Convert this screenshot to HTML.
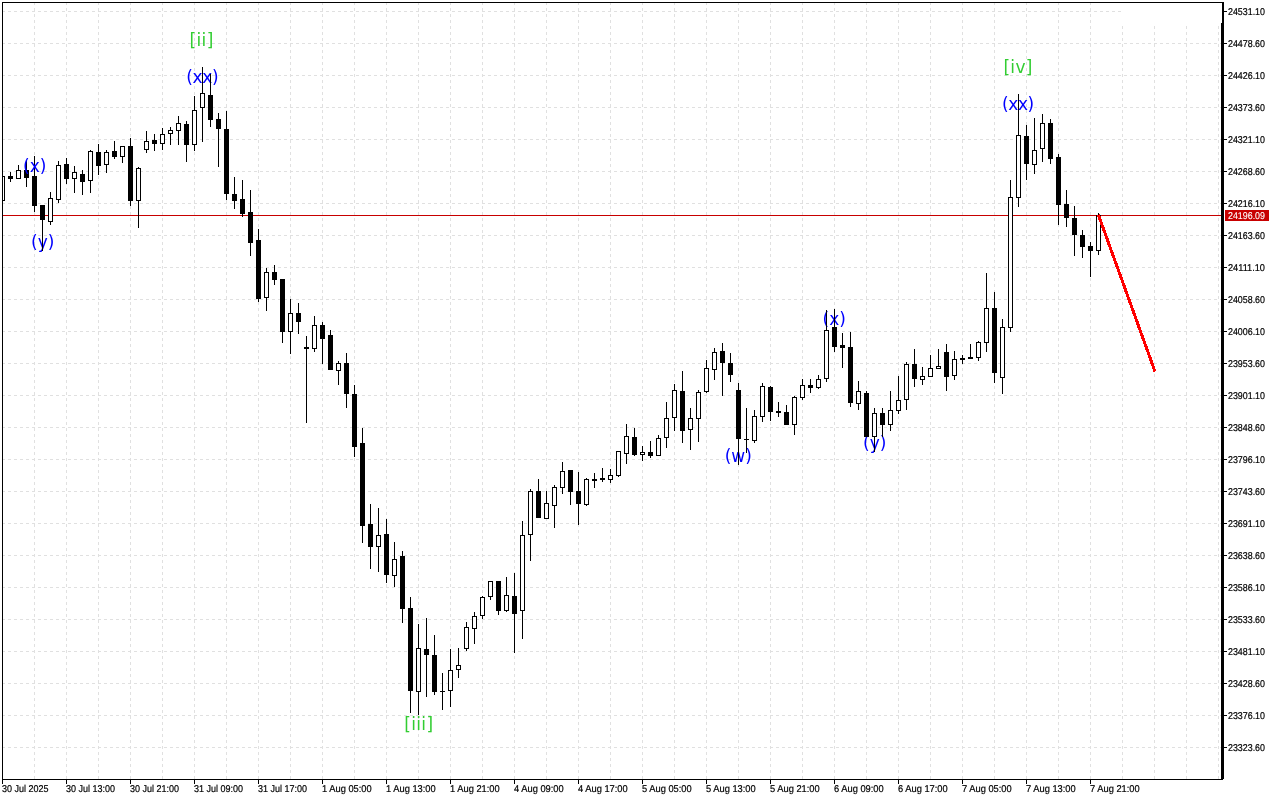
<!DOCTYPE html>
<html lang="en"><head><meta charset="utf-8"><title>Chart</title>
<style>html,body{margin:0;padding:0;background:#fff;overflow:hidden}svg{display:block}text{font-family:"Liberation Sans",sans-serif}.ax{font-size:9.9px;text-rendering:geometricPrecision;fill:#000;stroke:#000;stroke-width:0.2px}.wv text{font-family:"DejaVu Sans","Liberation Sans",sans-serif;font-size:17px}</style></head><body>
<svg width="1280" height="800" viewBox="0 0 1280 800">
<rect width="1280" height="800" fill="#fff"/>
<g shape-rendering="crispEdges" stroke="#e0e0e0" stroke-width="1" stroke-dasharray="3 3" fill="none">
<path d="M2 11.5H1221M2 43.5H1221M2 75.5H1221M2 107.5H1221M2 139.5H1221M2 171.5H1221M2 203.5H1221M2 235.5H1221M2 267.5H1221M2 299.5H1221M2 331.5H1221M2 363.5H1221M2 395.5H1221M2 427.5H1221M2 459.5H1221M2 491.5H1221M2 523.5H1221M2 555.5H1221M2 587.5H1221M2 619.5H1221M2 651.5H1221M2 683.5H1221M2 715.5H1221M2 747.5H1221"/>
<path d="M34.5 2V779M66.5 2V779M98.5 2V779M130.5 2V779M162.5 2V779M194.5 2V779M226.5 2V779M258.5 2V779M290.5 2V779M322.5 2V779M354.5 2V779M386.5 2V779M418.5 2V779M450.5 2V779M482.5 2V779M514.5 2V779M546.5 2V779M578.5 2V779M610.5 2V779M642.5 2V779M674.5 2V779M706.5 2V779M738.5 2V779M770.5 2V779M802.5 2V779M834.5 2V779M866.5 2V779M898.5 2V779M930.5 2V779M962.5 2V779M994.5 2V779M1026.5 2V779M1058.5 2V779M1090.5 2V779M1122.5 2V779M1154.5 2V779M1186.5 2V779M1218.5 2V779"/>
</g>
<rect x="1121" y="3" width="100" height="20" fill="#fff"/>
<rect x="3" y="215" width="1219" height="1" fill="#c80000" shape-rendering="crispEdges"/>
<g class="wv">
<text x="31.0" y="247.8" fill="#0000ff">(y)</text>
<text x="189.5" y="46.1" letter-spacing="0.35" fill="#32cd32">[ii]</text>
<text x="186.2" y="82.8" letter-spacing="-0.35" fill="#0000ff">(xx)</text>
<text x="404.2" y="730.1" letter-spacing="0.35" fill="#32cd32">[iii]</text>
<text x="724.7" y="461.8" fill="#0000ff">(w)</text>
<text x="822.5" y="324.8" fill="#0000ff">(x)</text>
<text x="863.0" y="448.8" fill="#0000ff">(y)</text>
<text x="1003.4" y="72.8" letter-spacing="0.35" fill="#32cd32">[iv]</text>
<text x="1001.9" y="109.8" letter-spacing="-0.35" fill="#0000ff">(xx)</text>
</g>
<g shape-rendering="crispEdges">
<path fill="#000" d="M0 176h5v25h-5zM10 172h1v10h-1zM8 176h5v3h-5zM18 165h1v14h-1zM16 170h5v9h-5zM26 160h1v27h-1zM24 170h5v8h-5zM34 156h1v56h-1zM32 176h5v30h-5zM42 205h1v46h-1zM40 205h5v15h-5zM50 192h1v33h-1zM48 198h5v24h-5zM58 161h1v42h-1zM56 165h5v35h-5zM66 158h1v26h-1zM64 164h5v15h-5zM74 166h1v27h-1zM72 172h5v7h-5zM82 170h1v25h-1zM80 174h5v8h-5zM90 150h1v43h-1zM88 151h5v30h-5zM98 144h1v31h-1zM96 152h5v14h-5zM106 150h1v23h-1zM104 152h5v13h-5zM114 141h1v18h-1zM112 151h5v6h-5zM122 146h1v17h-1zM120 146h5v11h-5zM130 138h1v68h-1zM128 146h5v55h-5zM138 167h1v61h-1zM136 168h5v33h-5zM146 131h1v22h-1zM144 141h5v9h-5zM154 134h1v17h-1zM152 140h5v4h-5zM162 128h1v22h-1zM160 134h5v10h-5zM170 127h1v18h-1zM168 130h5v4h-5zM178 116h1v29h-1zM176 123h5v8h-5zM186 121h1v41h-1zM184 124h5v21h-5zM194 96h1v55h-1zM192 110h5v35h-5zM202 67h1v75h-1zM200 93h5v15h-5zM210 74h1v53h-1zM208 95h5v25h-5zM218 113h1v54h-1zM216 119h5v10h-5zM226 111h1v89h-1zM224 129h5v65h-5zM234 177h1v32h-1zM232 194h5v7h-5zM242 180h1v37h-1zM240 199h5v15h-5zM250 190h1v66h-1zM248 212h5v31h-5zM258 229h1v73h-1zM256 240h5v59h-5zM266 268h1v43h-1zM264 272h5v26h-5zM274 265h1v20h-1zM272 272h5v8h-5zM282 279h1v64h-1zM280 279h5v53h-5zM290 299h1v55h-1zM288 313h5v19h-5zM298 303h1v31h-1zM296 313h5v9h-5zM306 336h1v87h-1zM304 347h5v2h-5zM314 316h1v36h-1zM312 325h5v24h-5zM322 322h1v42h-1zM320 325h5v14h-5zM330 330h1v40h-1zM328 335h5v35h-5zM338 361h1v24h-1zM336 363h5v8h-5zM346 353h1v55h-1zM344 363h5v31h-5zM354 385h1v72h-1zM352 394h5v53h-5zM362 428h1v115h-1zM360 443h5v83h-5zM370 504h1v65h-1zM368 524h5v23h-5zM378 508h1v64h-1zM376 535h5v12h-5zM386 519h1v64h-1zM384 534h5v41h-5zM394 542h1v45h-1zM392 559h5v17h-5zM402 551h1v72h-1zM400 556h5v53h-5zM410 597h1v116h-1zM408 608h5v83h-5zM418 624h1v91h-1zM416 648h5v44h-5zM426 618h1v79h-1zM424 649h5v6h-5zM434 635h1v60h-1zM432 655h5v37h-5zM442 673h1v37h-1zM440 691h5v1h-5zM450 649h1v58h-1zM448 670h5v21h-5zM458 648h1v30h-1zM456 665h5v5h-5zM466 622h1v29h-1zM464 627h5v22h-5zM474 612h1v32h-1zM472 616h5v13h-5zM482 596h1v23h-1zM480 597h5v19h-5zM490 581h1v19h-1zM488 581h5v16h-5zM498 581h1v34h-1zM496 581h5v30h-5zM506 577h1v35h-1zM504 595h5v16h-5zM514 573h1v80h-1zM512 596h5v18h-5zM522 521h1v118h-1zM520 535h5v76h-5zM530 489h1v72h-1zM528 491h5v44h-5zM538 479h1v39h-1zM536 491h5v27h-5zM546 491h1v28h-1zM544 503h5v16h-5zM554 485h1v43h-1zM552 487h5v19h-5zM562 462h1v32h-1zM560 471h5v17h-5zM570 470h1v35h-1zM568 470h5v22h-5zM578 472h1v53h-1zM576 491h5v13h-5zM586 478h1v28h-1zM584 479h5v26h-5zM594 473h1v15h-1zM592 479h5v2h-5zM602 468h1v14h-1zM600 478h5v2h-5zM610 469h1v14h-1zM608 475h5v5h-5zM618 451h1v26h-1zM616 451h5v25h-5zM626 424h1v40h-1zM624 436h5v18h-5zM634 428h1v28h-1zM632 437h5v18h-5zM642 446h1v15h-1zM640 452h5v3h-5zM650 441h1v17h-1zM648 452h5v4h-5zM658 435h1v21h-1zM656 438h5v18h-5zM666 402h1v46h-1zM664 418h5v20h-5zM674 384h1v47h-1zM672 390h5v28h-5zM682 371h1v72h-1zM680 391h5v40h-5zM690 408h1v42h-1zM688 418h5v12h-5zM698 390h1v52h-1zM696 392h5v27h-5zM706 360h1v33h-1zM704 368h5v24h-5zM714 348h1v32h-1zM712 352h5v18h-5zM722 343h1v53h-1zM720 351h5v12h-5zM730 353h1v29h-1zM728 363h5v12h-5zM738 383h1v82h-1zM736 390h5v49h-5zM746 408h1v45h-1zM744 439h5v1h-5zM754 410h1v33h-1zM752 416h5v25h-5zM762 383h1v39h-1zM760 386h5v31h-5zM770 386h1v35h-1zM768 387h5v25h-5zM778 402h1v15h-1zM776 411h5v2h-5zM786 405h1v20h-1zM784 412h5v13h-5zM794 396h1v39h-1zM792 397h5v28h-5zM802 379h1v21h-1zM800 385h5v13h-5zM810 379h1v14h-1zM808 385h5v3h-5zM818 375h1v14h-1zM816 379h5v9h-5zM826 310h1v72h-1zM824 330h5v49h-5zM834 309h1v43h-1zM832 327h5v20h-5zM842 333h1v35h-1zM840 345h5v3h-5zM850 332h1v75h-1zM848 347h5v56h-5zM858 381h1v29h-1zM856 391h5v13h-5zM866 391h1v46h-1zM864 393h5v44h-5zM874 408h1v44h-1zM872 413h5v24h-5zM882 408h1v29h-1zM880 413h5v12h-5zM890 391h1v40h-1zM888 410h5v15h-5zM898 376h1v38h-1zM896 400h5v11h-5zM906 362h1v48h-1zM904 364h5v36h-5zM914 349h1v38h-1zM912 364h5v15h-5zM922 367h1v18h-1zM920 376h5v4h-5zM930 355h1v22h-1zM928 368h5v9h-5zM938 349h1v20h-1zM936 366h5v3h-5zM946 344h1v47h-1zM944 352h5v25h-5zM954 351h1v29h-1zM952 359h5v17h-5zM962 355h1v9h-1zM960 358h5v2h-5zM970 344h1v15h-1zM968 357h5v2h-5zM978 341h1v20h-1zM976 342h5v16h-5zM986 273h1v79h-1zM984 308h5v35h-5zM994 292h1v91h-1zM992 308h5v65h-5zM1002 319h1v75h-1zM1000 327h5v51h-5zM1010 180h1v152h-1zM1008 197h5v131h-5zM1018 94h1v113h-1zM1016 135h5v63h-5zM1026 125h1v55h-1zM1024 136h5v28h-5zM1034 118h1v56h-1zM1032 150h5v15h-5zM1042 114h1v48h-1zM1040 123h5v26h-5zM1050 119h1v45h-1zM1048 123h5v36h-5zM1058 154h1v71h-1zM1056 157h5v48h-5zM1066 190h1v37h-1zM1064 204h5v14h-5zM1074 206h1v50h-1zM1072 218h5v17h-5zM1082 230h1v28h-1zM1080 235h5v12h-5zM1090 242h1v35h-1zM1088 246h5v5h-5zM1098 213h1v42h-1zM1096 215h5v36h-5z"/>
<path fill="#fff" d="M1 177h3v23h-3zM17 171h3v7h-3zM49 199h3v22h-3zM57 166h3v33h-3zM73 173h3v5h-3zM89 152h3v28h-3zM105 153h3v11h-3zM121 147h3v9h-3zM137 169h3v31h-3zM145 142h3v7h-3zM161 135h3v8h-3zM169 131h3v2h-3zM177 124h3v6h-3zM193 111h3v33h-3zM201 94h3v13h-3zM265 273h3v24h-3zM289 314h3v17h-3zM313 326h3v22h-3zM337 364h3v6h-3zM377 536h3v10h-3zM393 560h3v15h-3zM417 649h3v42h-3zM449 671h3v19h-3zM457 666h3v3h-3zM465 628h3v20h-3zM473 617h3v11h-3zM481 598h3v17h-3zM489 582h3v14h-3zM505 596h3v14h-3zM521 536h3v74h-3zM529 492h3v42h-3zM545 504h3v14h-3zM553 488h3v17h-3zM561 472h3v15h-3zM585 480h3v24h-3zM609 476h3v3h-3zM617 452h3v23h-3zM625 437h3v16h-3zM641 453h3v1h-3zM657 439h3v16h-3zM665 419h3v18h-3zM673 391h3v26h-3zM689 419h3v10h-3zM697 393h3v25h-3zM705 369h3v22h-3zM713 353h3v16h-3zM753 417h3v23h-3zM761 387h3v29h-3zM793 398h3v26h-3zM801 386h3v11h-3zM817 380h3v7h-3zM825 331h3v47h-3zM857 392h3v11h-3zM873 414h3v22h-3zM889 411h3v13h-3zM897 401h3v9h-3zM905 365h3v34h-3zM921 377h3v2h-3zM929 369h3v7h-3zM937 367h3v1h-3zM953 360h3v15h-3zM977 343h3v14h-3zM985 309h3v33h-3zM1001 328h3v49h-3zM1009 198h3v129h-3zM1017 136h3v61h-3zM1033 151h3v13h-3zM1041 124h3v24h-3zM1097 216h3v34h-3z"/>
</g>
<line x1="1098.3" y1="214.6" x2="1155" y2="371.5" stroke="#ff0000" stroke-width="3" shape-rendering="crispEdges"/>
<g shape-rendering="crispEdges" fill="#000">
<rect x="0" y="0" width="2" height="800" fill="#fff"/>
<rect x="2" y="2" width="1222" height="1"/>
<rect x="2" y="2" width="1" height="782"/>
<rect x="2" y="779" width="1221" height="1"/>
<rect x="1222" y="2" width="2" height="777"/>
<rect x="1221" y="23" width="1" height="756"/>
<path d="M1224 11h3v1h-3zM1224 43h3v1h-3zM1224 75h3v1h-3zM1224 107h3v1h-3zM1224 139h3v1h-3zM1224 171h3v1h-3zM1224 203h3v1h-3zM1224 235h3v1h-3zM1224 267h3v1h-3zM1224 299h3v1h-3zM1224 331h3v1h-3zM1224 363h3v1h-3zM1224 395h3v1h-3zM1224 427h3v1h-3zM1224 459h3v1h-3zM1224 491h3v1h-3zM1224 523h3v1h-3zM1224 555h3v1h-3zM1224 587h3v1h-3zM1224 619h3v1h-3zM1224 651h3v1h-3zM1224 683h3v1h-3zM1224 715h3v1h-3zM1224 747h3v1h-3zM66 780h1v4h-1zM130 780h1v4h-1zM194 780h1v4h-1zM258 780h1v4h-1zM322 780h1v4h-1zM386 780h1v4h-1zM450 780h1v4h-1zM514 780h1v4h-1zM578 780h1v4h-1zM642 780h1v4h-1zM706 780h1v4h-1zM770 780h1v4h-1zM834 780h1v4h-1zM898 780h1v4h-1zM962 780h1v4h-1zM1026 780h1v4h-1zM1090 780h1v4h-1z"/>
</g>
<g class="ax">
<text x="1228" y="14.8" textLength="37" lengthAdjust="spacingAndGlyphs">24531.10</text>
<text x="1228" y="46.8" textLength="37" lengthAdjust="spacingAndGlyphs">24478.60</text>
<text x="1228" y="78.8" textLength="37" lengthAdjust="spacingAndGlyphs">24426.10</text>
<text x="1228" y="110.8" textLength="37" lengthAdjust="spacingAndGlyphs">24373.60</text>
<text x="1228" y="142.8" textLength="37" lengthAdjust="spacingAndGlyphs">24321.10</text>
<text x="1228" y="174.8" textLength="37" lengthAdjust="spacingAndGlyphs">24268.60</text>
<text x="1228" y="206.8" textLength="37" lengthAdjust="spacingAndGlyphs">24216.10</text>
<text x="1228" y="238.8" textLength="37" lengthAdjust="spacingAndGlyphs">24163.60</text>
<text x="1228" y="270.8" textLength="37" lengthAdjust="spacingAndGlyphs">24111.10</text>
<text x="1228" y="302.8" textLength="37" lengthAdjust="spacingAndGlyphs">24058.60</text>
<text x="1228" y="334.8" textLength="37" lengthAdjust="spacingAndGlyphs">24006.10</text>
<text x="1228" y="366.8" textLength="37" lengthAdjust="spacingAndGlyphs">23953.60</text>
<text x="1228" y="398.8" textLength="37" lengthAdjust="spacingAndGlyphs">23901.10</text>
<text x="1228" y="430.8" textLength="37" lengthAdjust="spacingAndGlyphs">23848.60</text>
<text x="1228" y="462.8" textLength="37" lengthAdjust="spacingAndGlyphs">23796.10</text>
<text x="1228" y="494.8" textLength="37" lengthAdjust="spacingAndGlyphs">23743.60</text>
<text x="1228" y="526.8" textLength="37" lengthAdjust="spacingAndGlyphs">23691.10</text>
<text x="1228" y="558.8" textLength="37" lengthAdjust="spacingAndGlyphs">23638.60</text>
<text x="1228" y="590.8" textLength="37" lengthAdjust="spacingAndGlyphs">23586.10</text>
<text x="1228" y="622.8" textLength="37" lengthAdjust="spacingAndGlyphs">23533.60</text>
<text x="1228" y="654.8" textLength="37" lengthAdjust="spacingAndGlyphs">23481.10</text>
<text x="1228" y="686.8" textLength="37" lengthAdjust="spacingAndGlyphs">23428.60</text>
<text x="1228" y="718.8" textLength="37" lengthAdjust="spacingAndGlyphs">23376.10</text>
<text x="1228" y="750.8" textLength="37" lengthAdjust="spacingAndGlyphs">23323.60</text>
</g>
<rect x="1225" y="210" width="44" height="11" fill="#c80000" shape-rendering="crispEdges"/>
<text class="ax" x="1228" y="218.8" textLength="37" lengthAdjust="spacingAndGlyphs" style="fill:#fff;stroke:#fff;stroke-width:0.1px">24196.09</text>
<g class="ax">
<text x="2" y="791.8" textLength="46.5" lengthAdjust="spacingAndGlyphs">30 Jul 2025</text>
<text x="66" y="791.8" textLength="49.0" lengthAdjust="spacingAndGlyphs">30 Jul 13:00</text>
<text x="130" y="791.8" textLength="49.0" lengthAdjust="spacingAndGlyphs">30 Jul 21:00</text>
<text x="194" y="791.8" textLength="49.0" lengthAdjust="spacingAndGlyphs">31 Jul 09:00</text>
<text x="258" y="791.8" textLength="49.0" lengthAdjust="spacingAndGlyphs">31 Jul 17:00</text>
<text x="322" y="791.8" textLength="49.7" lengthAdjust="spacingAndGlyphs">1 Aug 05:00</text>
<text x="386" y="791.8" textLength="49.7" lengthAdjust="spacingAndGlyphs">1 Aug 13:00</text>
<text x="450" y="791.8" textLength="49.7" lengthAdjust="spacingAndGlyphs">1 Aug 21:00</text>
<text x="514" y="791.8" textLength="49.7" lengthAdjust="spacingAndGlyphs">4 Aug 09:00</text>
<text x="578" y="791.8" textLength="49.7" lengthAdjust="spacingAndGlyphs">4 Aug 17:00</text>
<text x="642" y="791.8" textLength="49.7" lengthAdjust="spacingAndGlyphs">5 Aug 05:00</text>
<text x="706" y="791.8" textLength="49.7" lengthAdjust="spacingAndGlyphs">5 Aug 13:00</text>
<text x="770" y="791.8" textLength="49.7" lengthAdjust="spacingAndGlyphs">5 Aug 21:00</text>
<text x="834" y="791.8" textLength="49.7" lengthAdjust="spacingAndGlyphs">6 Aug 09:00</text>
<text x="898" y="791.8" textLength="49.7" lengthAdjust="spacingAndGlyphs">6 Aug 17:00</text>
<text x="962" y="791.8" textLength="49.7" lengthAdjust="spacingAndGlyphs">7 Aug 05:00</text>
<text x="1026" y="791.8" textLength="49.7" lengthAdjust="spacingAndGlyphs">7 Aug 13:00</text>
<text x="1090" y="791.8" textLength="49.7" lengthAdjust="spacingAndGlyphs">7 Aug 21:00</text>
</g>
<g class="wv">
<text x="23.0" y="171.8" fill="#0000ff">(x)</text>
</g>
</svg></body></html>
